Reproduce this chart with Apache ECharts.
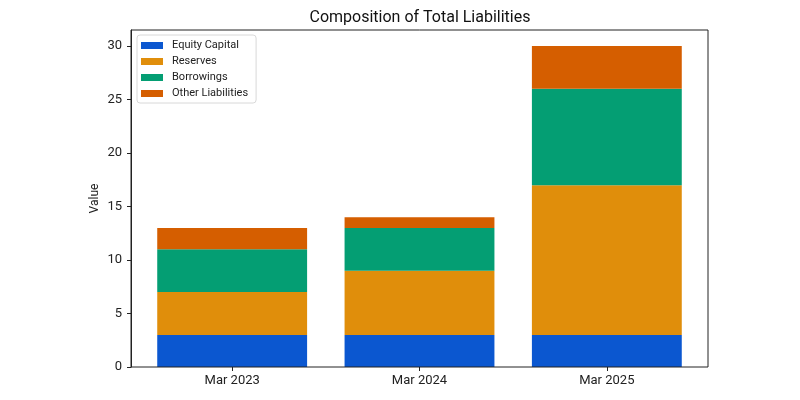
<!DOCTYPE html>
<html>
<head>
<meta charset="utf-8">
<script src="https://cdn.jsdelivr.net/npm/echarts@6/dist/echarts.min.js"></script>
<style>html,body{margin:0;padding:0;background:#fff}#c{width:800px;height:400px}</style>
</head>
<body>
<div id="c"></div>
<script>
var categories = ['Mar 2023', 'Mar 2024', 'Mar 2025'];
var equityCapital = [3, 3, 3];
var reserves = [4, 6, 14];
var borrowings = [4, 4, 9];
var otherLiabilities = [2, 1, 4];
var yTicks = [0, 5, 10, 15, 20, 25, 30];
var seriesNames = ['Equity Capital', 'Reserves', 'Borrowings', 'Other Liabilities'];
var colors = ['#0b57d0', '#e08e0b', '#049e73', '#d55e00'];
var FONT = 'Roboto';
var Y_MAX = 31.5;

var chart = echarts.init(document.getElementById('c'), null, { renderer: 'canvas' });
var seriesData = [equityCapital, reserves, borrowings, otherLiabilities];
chart.setOption({
  animation: false,
  color: colors,
  textStyle: { fontFamily: FONT },
  title: {
    text: 'Composition of Total Liabilities',
    left: 420, top: 10, textAlign: 'center', padding: 0,
    textStyle: { fontFamily: FONT, fontSize: 16, fontWeight: 'normal', color: '#111' }
  },
  legend: {
    orient: 'vertical', left: 137, top: 35,
    padding: [4, 8, 3, 4],
    itemWidth: 22, itemHeight: 7, itemGap: 3,
    borderColor: '#d8d8d8', borderWidth: 1, borderRadius: 3,
    backgroundColor: 'rgba(255,255,255,0.85)',
    textStyle: { fontFamily: FONT, fontSize: 11, color: '#222', padding: [0, 0, 0, 4], lineHeight: 13 },
    icon: 'rect',
    data: seriesNames
  },
  grid: [
    { left: 131, right: 92, top: 30, bottom: 33, show: true, borderColor: '#222', borderWidth: 1, z: 3 },
    { left: 138.5, right: 99.5, top: 30, bottom: 33 }
  ],
  xAxis: [
    { gridIndex: 0, type: 'value', min: 0, max: 1, show: false },
    {
      gridIndex: 1, type: 'category', data: categories, boundaryGap: true,
      axisLine: { show: false },
      axisTick: { show: true, alignWithLabel: true, length: 4, lineStyle: { color: '#222' } },
      axisLabel: { margin: 7, fontFamily: FONT, fontSize: 13, color: '#222' }
    }
  ],
  yAxis: [
    {
      gridIndex: 0, type: 'value', min: 0, max: Y_MAX,
      name: 'Value', nameLocation: 'middle', nameGap: 30, nameMoveOverlap: false,
      nameTextStyle: { fontFamily: FONT, fontSize: 12, color: '#222' },
      splitLine: { show: false },
      axisLine: { show: true, lineStyle: { color: '#222' } },
      axisTick: { show: true, length: 4, customValues: yTicks, lineStyle: { color: '#222' } },
      axisLabel: { customValues: yTicks, margin: 9, fontFamily: FONT, fontSize: 13, color: '#222' }
    },
    { gridIndex: 1, type: 'value', min: 0, max: Y_MAX, show: false }
  ],
  series: seriesData.map(function (arr, k) {
    return {
      name: seriesNames[k], type: 'bar', stack: 'total',
      xAxisIndex: 1, yAxisIndex: 1,
      barWidth: '80%',
      data: arr
    };
  })
});
</script>
</body>
</html>
